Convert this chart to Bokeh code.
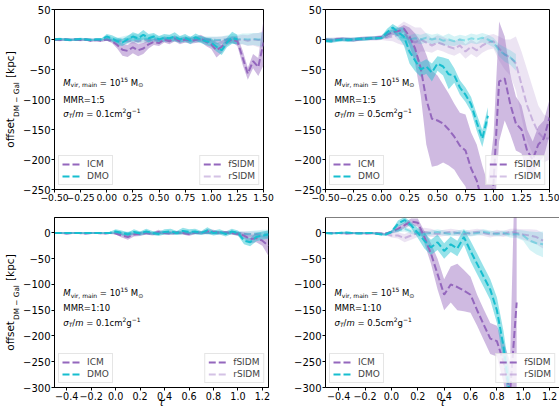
import numpy as np
from bokeh.plotting import figure
from bokeh.models import (Range1d, Label, Legend, LegendItem, FixedTicker,
                          CustomJSTickFormatter, Span, LinearAxis)
from bokeh.layouts import column, row
from bokeh.embed import file_html
from bokeh.resources import INLINE

# ---------------- data ----------------
tau_top = [-0.50, -0.45, -0.40, -0.35, -0.30, -0.25, -0.20, -0.15, -0.10, -0.05,
           0.00, 0.05, 0.10, 0.15, 0.20, 0.25, 0.30, 0.35, 0.40, 0.45,
           0.50, 0.55, 0.60, 0.65, 0.70, 0.75, 0.80, 0.85, 0.90, 0.95,
           1.00, 1.05, 1.10, 1.15, 1.20, 1.25, 1.30, 1.35, 1.40, 1.45, 1.50]
tau_bot = tau_top[:36]

xticks_top = [-0.5, -0.25, 0.0, 0.25, 0.5, 0.75, 1.0, 1.25, 1.5]
xticks_bot = [-0.4, -0.2, 0.0, 0.2, 0.4, 0.6, 0.8, 1.0, 1.2]
yticks_top = [-250, -200, -150, -100, -50, 0, 50]
yticks_bot = [-300, -250, -200, -150, -100, -50, 0]

legend_left = ["ICM", "DMO"]
legend_right = ["fSIDM", "rSIDM"]
mmr_labels = ["1:5", "1:5", "1:10", "1:10"]
sigma_labels = ["0.1", "0.5", "0.1", "0.5"]

# Panel A: MMR 1:5, sigma 0.1
a_icm_f = [0, -1, 0, -1, 0, -1, 0, -2, -1, -2,
           0, -3, -9, -17, -19, -13, -18, -15, -8, -4,
           -6, 0, -3, 2, -3, 0, -2, -1, 2, -4,
           -8, -18, -12, -4, 0, -3, -30, -57, -36, -46, -5]
a_icm_f_err = [2, 2, 2, 2, 2, 2, 2, 2, 2, 2,
               2, 3, 6, 10, 10, 10, 10, 9, 7, 5,
               5, 5, 5, 5, 5, 5, 5, 5, 6, 7,
               8, 12, 10, 6, 5, 8, 12, 10, 12, 15, 38]
a_icm_r = [0, 0, 0, 0, 0, 0, 0, 0, 0, 0,
           0, -1, -2, -3, -3, -2, -3, -2, -1, 0,
           -1, 0, -1, 0, 0, -1, 0, 0, -1, 0,
           -1, -2, -1, 0, 0, -1, 0, -2, 0, -1, 0]
a_icm_r_err = [2, 2, 2, 2, 2, 2, 2, 2, 2, 2,
               2, 3, 4, 5, 5, 5, 5, 5, 4, 4,
               4, 4, 4, 4, 4, 4, 4, 4, 4, 4,
               5, 6, 6, 6, 6, 7, 8, 9, 10, 12, 14]
a_dmo_f = [0, 1, 0, -1, 0, 1, 0, -1, 0, 0,
           5, 2, -3, -5, 0, 5, 2, 8, 2, 5,
           0, 3, 2, 5, 0, 3, -2, 4, 0, -3,
           -5, -12, -18, -5, 3, 0]
a_dmo_f_err = [2, 2, 2, 2, 2, 2, 2, 2, 2, 2,
               4, 5, 6, 6, 6, 7, 7, 8, 7, 6,
               6, 6, 6, 7, 6, 6, 6, 6, 6, 6,
               7, 8, 8, 8, 10, 8]
a_dmo_r = [0, 0, 0, 0, 0, 0, 0, 0, 0, 0,
           1, 0, -1, 0, 1, 2, 1, 2, 1, 2,
           1, 1, 2, 1, 1, 0, 1, 0, 1, 0,
           0, -1, -1, 0, 1, 0, 1, 0, 1, 0, 0]
a_dmo_r_err = [2, 2, 2, 2, 2, 2, 2, 2, 2, 2,
               3, 4, 4, 5, 6, 7, 7, 7, 6, 6,
               5, 5, 5, 5, 5, 5, 5, 5, 5, 5,
               5, 6, 6, 7, 8, 8, 9, 10, 10, 11, 12]

# Panel B: MMR 1:5, sigma 0.5
b_icm_f = [-1, -2, 0, 1, 0, -1, 1, 2, 2, 3,
           4, 8, 12, 14, 18, 5, -15, -48, -100, -132,
           -135, -140, -150, -162, -177, -185, -215, -235, -270, -300,
           -240, -70, -65, -108, -140, -150, -185, -200, -175, -165, -130]
b_icm_f_err = [3, 3, 3, 3, 3, 3, 3, 3, 3, 3,
               3, 5, 5, 5, 6, 15, 25, 45, 75, 80,
               75, 65, 60, 55, 55, 60, 60, 60, 60, 60,
               80, 100, 70, 50, 45, 40, 35, 30, 30, 30, 30]
b_icm_r = [0, 0, 1, 0, 0, 1, 0, 1, 1, 1,
           2, 3, 5, 8, 10, 0, -5, 0, -5, -10,
           -5, -8, -12, -15, -10, -20, -12, -18, -10, -5,
           -3, -15, -25, -30, -40, -75, -110, -135, -155, -165, -165]
b_icm_r_err = [3, 3, 3, 3, 3, 3, 3, 3, 3, 3,
               3, 5, 8, 15, 20, 25, 25, 20, 15, 12,
               12, 12, 12, 12, 12, 12, 12, 12, 12, 12,
               12, 20, 25, 30, 45, 55, 60, 55, 45, 40, 35]
b_dmo_f = [-2, -3, -1, 0, -1, 0, 1, 1, 2, 2,
           3, 12, 20, 12, 5, -20, -35, -50, -45, -55,
           -40, -45, -58, -60, -80, -92, -108, -138, -165, -127]
b_dmo_f_err = [3, 3, 3, 3, 3, 3, 3, 3, 3, 3,
               3, 6, 6, 8, 15, 20, 18, 12, 12, 15,
               12, 15, 25, 12, 12, 12, 12, 14, 14, 14]
b_dmo_r = [0, 0, -1, 0, 1, 0, 1, 1, 2, 2,
           3, 8, 15, 5, 3, 0, 2, 0, 3, 0,
           2, -2, 0, -3, 0, -2, 2, 0, 3, 0,
           -5, -18, -25, -30, -38]
b_dmo_r_err = [3, 3, 3, 3, 3, 3, 3, 3, 3, 3,
               3, 5, 6, 6, 6, 7, 8, 8, 8, 8,
               8, 8, 10, 8, 8, 8, 8, 8, 8, 8,
               8, 10, 12, 12, 14]

# Panel C: MMR 1:10, sigma 0.1
c_icm_f = [0, 0, -1, 0, 0, -1, 0, 0, -1, 0,
           -1, -5, -8, -3, -2, 0, -2, 2, 0, -1,
           1, 0, -2, 1, 0, 3, 2, 0, 1, 0,
           -2, -5, -12, -10, -15, -25]
c_icm_f_err = [2, 2, 2, 2, 2, 2, 2, 2, 2, 2,
               2, 4, 5, 4, 4, 3, 3, 4, 3, 3,
               3, 3, 4, 3, 3, 4, 4, 3, 3, 3,
               4, 6, 8, 8, 10, 20]
c_icm_r = [0, 0, 0, 0, 0, 0, 0, 0, 0, 0,
           0, -1, -2, -1, 0, 0, -1, 0, 0, 1,
           0, 0, -1, 0, 1, 0, 0, 1, 0, 0,
           0, -1, -2, -2, -3, -3]
c_icm_r_err = [2, 2, 2, 2, 2, 2, 2, 2, 2, 2,
               2, 3, 3, 3, 3, 3, 3, 3, 3, 3,
               3, 3, 3, 3, 3, 3, 3, 3, 3, 3,
               3, 4, 5, 5, 6, 8]
c_dmo_f = [0, 0, 0, 0, 0, 0, 0, 0, 0, 0,
           3, 0, -3, 2, -1, 3, 0, -2, 2, 3,
           0, 4, 2, 3, 0, 5, 0, 2, -2, 3,
           0, -15, -18, -8, -5, -3]
c_dmo_f_err = [2, 2, 2, 2, 2, 2, 2, 2, 2, 2,
               4, 5, 4, 5, 4, 5, 4, 4, 5, 5,
               4, 6, 5, 5, 4, 6, 5, 5, 5, 5,
               5, 7, 8, 8, 8, 8]
c_dmo_r = [0, 0, 0, 0, 0, 0, 0, 0, 0, 0,
           1, 0, 0, 1, 0, 1, 0, 0, 1, 0,
           0, 1, 0, 0, 1, 0, 0, 1, 0, 0,
           0, -2, -2, -1, -1, -2]
c_dmo_r_err = [2, 2, 2, 2, 2, 2, 2, 2, 2, 2,
               3, 3, 3, 3, 3, 3, 3, 3, 3, 3,
               3, 3, 3, 3, 3, 3, 3, 3, 3, 3,
               4, 5, 6, 6, 7, 8]

# Panel D: MMR 1:10, sigma 0.5
d_icm_f = [0, 0, 0, -1, 0, 0, -1, 0, -1, -2,
           2, 8, 15, 22, 20, -8, -40, -80, -120, -100,
           -105, -112, -120, -150, -178, -205, -210, -250, -310, -135]
d_icm_f_err = [2, 2, 2, 2, 2, 2, 2, 2, 2, 2,
               3, 6, 6, 6, 8, 12, 20, 30, 30, 35,
               45, 40, 35, 30, 30, 30, 30, 40, 60, 400]
d_icm_r = [0, 0, 0, 0, -1, 0, 0, -1, -1, -2,
           -5, -5, -10, -5, 0, 2, 0, -2, 0, 2,
           0, -2, 0, 2, 0, -3, 0, -2, 2, 0,
           -3, -5, -8, -15]
d_icm_r_err = [2, 2, 2, 2, 2, 2, 2, 2, 2, 2,
               4, 6, 8, 8, 8, 8, 8, 6, 6, 6,
               6, 6, 6, 6, 6, 6, 6, 6, 6, 8,
               10, 12, 14, 15]
d_dmo_f = [0, -1, 0, 1, 0, -1, 0, 0, -2, -4,
           2, 18, 25, 15, 0, -15, -28, -18, -35, -22,
           -30, -8, -35, -60, -85, -110, -150, -220, -320]
d_dmo_f_err = [2, 2, 2, 2, 2, 2, 2, 2, 2, 2,
               3, 6, 6, 6, 10, 15, 15, 15, 15, 15,
               15, 15, 20, 20, 20, 20, 25, 30, 40]
d_dmo_r = [0, 0, 0, 0, 0, 0, 0, 0, -1, -2,
           2, 5, 8, 3, 0, -2, 0, 2, 0, -2,
           0, 2, -2, 0, 2, 0, -2, 0, -3, -2,
           -5, -15, -20, -22]
d_dmo_r_err = [2, 2, 2, 2, 2, 2, 2, 2, 2, 2,
               3, 4, 5, 5, 5, 5, 5, 5, 5, 5,
               5, 5, 5, 5, 5, 5, 5, 5, 6, 8,
               10, 18, 22, 25]

# ---------------- style ----------------
PURPLE = "#9467bd"
CYAN = "#17becf"
FONT = "DejaVu Sans"
DASH = "7 3"
NB = "\u00a0"

W = {' ': 651, NB: 651, ',': 651, '.': 651, '/': 690, ':': 690, '=': 1716, '[': 799,
     ']': 799, '\u2212': 1716, 'C': 1430, 'D': 1577, 'G': 1606, 'I': 604, 'M': 1767,
     'O': 1612, 'R': 1423, 'S': 1300, 'T': 1251, 'a': 1255, 'c': 1126, 'e': 1260,
     'f': 721, 'g': 1300, 'i': 569, 'k': 1186, 'l': 569, 'm': 1995, 'n': 1298,
     'o': 1253, 'p': 1300, 'r': 842, 's': 1067, 't': 803, 'v': 1212, '\u03c3': 1300,
     '\u2299': 1800, '\u03c4': 1100}
for ch in "0123456789":
    W[ch] = 1303


def tw(s, size):
    return sum(W.get(c, 1250) for c in s) / 2048.0 * size


class Panel:
    def __init__(self, width, height, left, top, fw, fh, xr, yr, page_x0, page_y0):
        self.fw, self.fh, self.xr, self.yr = fw, fh, xr, yr
        self.px0, self.py0 = page_x0, page_y0
        self.p = figure(width=width, height=height,
                        x_range=Range1d(*xr), y_range=Range1d(*yr),
                        output_backend="svg", toolbar_location=None,
                        min_border_left=left, min_border_right=width - left - fw,
                        min_border_top=top, min_border_bottom=height - top - fh)

    def data(self, px, py):
        x = self.xr[0] + (px - self.px0) / self.fw * (self.xr[1] - self.xr[0])
        y = self.yr[1] - (py - self.py0) / self.fh * (self.yr[1] - self.yr[0])
        return x, y


def style(pn, xticks, xdec, yticks, xfont):
    p = pn.p
    p.xgrid.visible = False
    p.ygrid.visible = False
    p.background_fill_color = "white"
    p.border_fill_color = "white"
    p.outline_line_color = "black"
    p.outline_line_width = 1
    p.outline_line_alpha = 1
    p.xaxis.ticker = FixedTicker(ticks=xticks)
    p.yaxis.ticker = FixedTicker(ticks=yticks)
    p.xaxis.formatter = CustomJSTickFormatter(
        code="return (tick < 0 ? '\u2212' : '') + Math.abs(tick).toFixed(%d);" % xdec)
    p.yaxis.formatter = CustomJSTickFormatter(
        code="return (tick < 0 ? '\u2212' : '') + Math.abs(tick).toFixed(0);")
    for ax in (p.xaxis, p.yaxis):
        ax.major_tick_in = 0
        ax.minor_tick_in = 0
        ax.minor_tick_out = 0
        ax.axis_line_color = "black"
        ax.major_tick_line_color = "black"
        ax.major_label_text_font = FONT
        ax.major_label_text_color = "black"
    p.xaxis.major_label_text_font_size = xfont
    p.yaxis.major_label_text_font_size = "10px"
    p.xaxis.major_tick_out = 3
    p.xaxis.major_label_standoff = 1
    p.yaxis.major_tick_out = 3
    p.yaxis.major_label_standoff = 1


def draw(pn, tau, series):
    p = pn.p
    for mean, err, color, kind in series:
        t = tau[:len(mean)]
        m = np.array(mean, dtype=float)
        e = np.array(err, dtype=float)
        p.varea(x=t, y1=m - e, y2=m + e, fill_color=color,
                fill_alpha=0.45 if kind == "f" else 0.18)
    for mean, err, color, kind in series:
        t = tau[:len(mean)]
        p.line(t, mean, line_color=color, line_width=2, line_dash=DASH,
               line_alpha=1.0 if kind == "f" else 0.4)


def legends(pn):
    p = pn.p
    nan2 = np.array([np.nan, np.nan])
    r1 = p.line(nan2, nan2, line_color=PURPLE, line_width=2, line_dash=DASH)
    r2 = p.line(nan2, nan2, line_color=CYAN, line_width=2, line_dash=DASH)
    r3 = p.line(nan2, nan2, line_color=PURPLE, line_width=2, line_dash=DASH)
    r4 = p.line(nan2, nan2, line_color=PURPLE, line_width=2, line_dash=DASH, line_alpha=0.4)
    L1 = Legend(items=[LegendItem(label=legend_left[0], renderers=[r1]),
                       LegendItem(label=legend_left[1], renderers=[r2])],
                location="bottom_left")
    L2 = Legend(items=[LegendItem(label=legend_right[0], renderers=[r3]),
                       LegendItem(label=legend_right[1], renderers=[r4])],
                location="bottom_right")
    for L in (L1, L2):
        L.label_text_font = FONT
        L.label_text_font_size = "9px"
        L.glyph_width = 20
        L.glyph_height = 10
        L.label_height = 10
        L.label_standoff = 5
        L.spacing = 2
        L.padding = 3
        L.margin = 4
        L.border_line_color = "#cccccc"
        L.border_line_width = 1
        L.background_fill_alpha = 0.8
        p.add_layout(L)


def runs(pn, px, py, parts):
    x, y = pn.data(px, py)
    off = 0.0
    for text, size, shift, italic in parts:
        text = text.replace(" ", NB)
        pn.p.add_layout(Label(x=x, y=y, x_offset=off, y_offset=shift, text=text,
                              text_font=FONT, text_font_size="%gpx" % size,
                              text_font_style="italic" if italic else "normal",
                              text_baseline="alphabetic", text_align="left",
                              text_color="black"))
        off += tw(text, size)


def annotate(pn, mmr, sig, dy):
    x0 = pn.px0 + 9
    y0 = pn.py0
    runs(pn, x0, y0 + dy[0], [("M", 8.5, 0, True), ("vir, main", 6, -2, False),
                               (" = 10", 8.5, 0, False), ("15", 6, 3.5, False),
                               (" M", 8.5, 0, False), ("\u2299", 6, -2, False)])
    runs(pn, x0, y0 + dy[1], [("MMR=" + mmr, 8.5, 0, False)])
    runs(pn, x0, y0 + dy[2], [("\u03c3", 8.5, 0, True), ("T", 6, -2, True),
                               ("/", 8.5, 0, False), ("m", 8.5, 0, True),
                               (" = " + sig + "cm", 8.5, 0, False), ("2", 6, 3.5, False),
                               ("g", 8.5, 0, False), ("\u22121", 6, 3.5, False)])


def ylabel(pn):
    p = pn.p
    # subscript part on the main axis, main text on an outer, tick-less axis
    p.yaxis.axis_label = "DM" + NB + "\u2212" + NB + "Gal"
    p.yaxis.axis_label_text_font = FONT
    p.yaxis.axis_label_text_font_size = "7.3px"
    p.yaxis.axis_label_text_font_style = "normal"
    p.yaxis.axis_label_text_color = "black"
    p.yaxis.axis_label_standoff = -1
    outer = LinearAxis(ticker=FixedTicker(ticks=[]),
                       axis_label="offset" + NB * 12 + "[kpc]",
                       axis_label_text_font=FONT, axis_label_text_font_size="10.5px",
                       axis_label_text_font_style="normal", axis_label_text_color="black",
                       axis_label_standoff=-6, axis_line_color=None,
                       major_tick_out=0, major_tick_in=0, minor_tick_out=0,
                       minor_tick_in=0, major_label_standoff=0,
                       major_label_text_font_size="1px")
    p.add_layout(outer, "left")


def xlabel(pn):
    p = pn.p
    p.xaxis.axis_label = "\u03c4"
    p.xaxis.axis_label_text_font = FONT
    p.xaxis.axis_label_text_font_size = "10.5px"
    p.xaxis.axis_label_text_font_style = "italic"
    p.xaxis.axis_label_text_color = "black"
    p.xaxis.axis_label_standoff = -7


# ---------------- panels ----------------
A = Panel(280, 212, 49, 9, 214, 180, (-0.5, 1.5), (-250, 50), 49, 9)
B = Panel(279, 212, 45, 9, 224, 180, (-0.5, 1.5), (-250, 50), 324, 9)
C = Panel(280, 198, 49, 5, 219, 171, (-0.5, 1.25), (-300, 30), 49, 217)
D = Panel(279, 198, 45, 5, 234, 171, (-0.5, 1.275), (-300, 30), 324, 217)

style(A, xticks_top, 2, yticks_top, "9.2px")
style(B, xticks_top, 2, yticks_top, "9.2px")
style(C, xticks_bot, 1, yticks_bot, "9.6px")
style(D, xticks_bot, 1, yticks_bot, "9.6px")

draw(A, tau_top, [(a_icm_f, a_icm_f_err, PURPLE, "f"), (a_icm_r, a_icm_r_err, PURPLE, "r"),
                  (a_dmo_f, a_dmo_f_err, CYAN, "f"), (a_dmo_r, a_dmo_r_err, CYAN, "r")])
draw(B, tau_top, [(b_icm_f, b_icm_f_err, PURPLE, "f"), (b_icm_r, b_icm_r_err, PURPLE, "r"),
                  (b_dmo_f, b_dmo_f_err, CYAN, "f"), (b_dmo_r, b_dmo_r_err, CYAN, "r")])
draw(C, tau_bot, [(c_icm_f, c_icm_f_err, PURPLE, "f"), (c_icm_r, c_icm_r_err, PURPLE, "r"),
                  (c_dmo_f, c_dmo_f_err, CYAN, "f"), (c_dmo_r, c_dmo_r_err, CYAN, "r")])
draw(D, tau_bot, [(d_icm_f, d_icm_f_err, PURPLE, "f"), (d_icm_r, d_icm_r_err, PURPLE, "r"),
                  (d_dmo_f, d_dmo_f_err, CYAN, "f"), (d_dmo_r, d_dmo_r_err, CYAN, "r")])

for pn in (A, B, C, D):
    legends(pn)

annotate(A, mmr_labels[0], sigma_labels[0], (73, 90, 104))
annotate(B, mmr_labels[1], sigma_labels[1], (73, 90, 104))
annotate(C, mmr_labels[2], sigma_labels[2], (76, 91, 106))
annotate(D, mmr_labels[3], sigma_labels[3], (76, 91, 106))

ylabel(A)
ylabel(C)
xlabel(C)
xlabel(D)

# open right edge on the clipped lower-right panel
D.p.outline_line_color = None
D.p.add_layout(Span(location=30, dimension="width", line_color="black", line_width=1))

layout = column(row(A.p, B.p), row(C.p, D.p))
open("out.html", "w").write(file_html(layout, INLINE))
